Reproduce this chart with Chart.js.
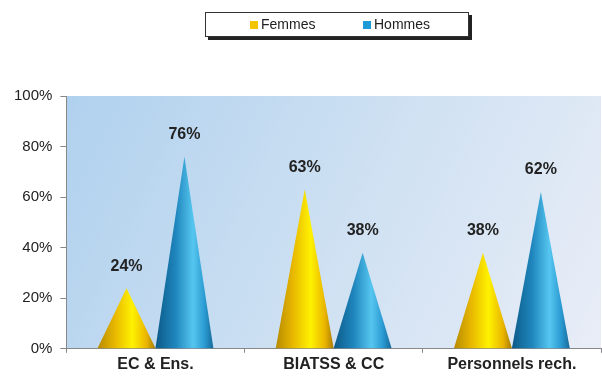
<!DOCTYPE html>
<html>
<head>
<meta charset="utf-8">
<script src="https://cdn.jsdelivr.net/npm/chart.js@4"></script>
<style>
    html, body { margin: 0; padding: 0; background: #fff; }
    #wrap { position: relative; width: 602px; height: 376px; }
    #legend {
        position: absolute; left: 205px; top: 12px; width: 262px; height: 23px;
        border: 1px solid #333; background: #fff; box-shadow: 3px 3px 0 #222;
        font: 14px "Liberation Sans", Arial, sans-serif; color: #222;
    }
    #legend span { position: absolute; top: 3px; }
    #legend i { display: inline-block; width: 8px; height: 8px; margin-right: 3px; vertical-align: 0; }
</style>
</head>
<body>
<div id="wrap">
    <canvas id="chart" width="602" height="376"></canvas>
    <div id="legend"></div>
</div>
<script>
(function () {
    'use strict';

    const categories = ['EC & Ens.', 'BIATSS & CC', 'Personnels rech.'];
    const seriesNames = ['Femmes', 'Hommes'];
    const femmes = [24, 63, 38];
    const hommes = [76, 38, 62];
    const yTicks = [0, 20, 40, 60, 80, 100];

    const FONT = '"Liberation Sans", Arial, sans-serif';
    const SWATCH = ['#f5c400', '#1e9ad6'];

    const CONE_STOPS = [
        [[0, '#b78a00'], [0.3, '#e8b800'], [0.6, '#fff200'], [0.85, '#e9b400'], [1, '#a67a00']],
        [[0, '#0c5a88'], [0.35, '#1f86bd'], [0.65, '#56c6f0'], [0.85, '#2a9ad2'], [1, '#16699a']]
    ];

    // legende en HTML
    const legend = document.getElementById('legend');
    legend.innerHTML = seriesNames.map((n, i) =>
        `<span style="left:${44 + i * 113}px"><i style="background:${SWATCH[i]}"></i>${n}</span>`
    ).join('');

    /** fond en degrade dans la zone du graphique */
    const backgroundPlugin = {
        id: 'plotBackground',
        beforeDraw(chart) {
            const { ctx, chartArea: a } = chart;
            const g = ctx.createLinearGradient(a.left, a.top, a.right, a.bottom);
            g.addColorStop(0, '#b0d1ee');
            g.addColorStop(0.5, '#cde0f2');
            g.addColorStop(1, '#e9edf7');
            ctx.save();
            ctx.fillStyle = g;
            ctx.fillRect(a.left, a.top, a.right - a.left, a.bottom - a.top);
            ctx.restore();
        }
    };

    /** cones a partir des barres calculees par Chart.js */
    const conePlugin = {
        id: 'cones',
        afterDatasetsDraw(chart) {
            const ctx = chart.ctx;
            ctx.save();
            chart.data.datasets.forEach((ds, di) => {
                const meta = chart.getDatasetMeta(di);
                meta.data.forEach((bar, i) => {
                    const { x, y, base, width } = bar.getProps(['x', 'y', 'base', 'width'], true);
                    const left = x - width / 2, right = x + width / 2;
                    const g = ctx.createLinearGradient(left, 0, right, 0);
                    CONE_STOPS[di].forEach(s => g.addColorStop(s[0], s[1]));
                    ctx.beginPath();
                    ctx.moveTo(left, base);
                    ctx.lineTo(x, y);
                    ctx.lineTo(right, base);
                    ctx.closePath();
                    ctx.fillStyle = g;
                    ctx.fill();

                    ctx.fillStyle = '#222';
                    ctx.font = 'bold 16px ' + FONT;
                    ctx.textAlign = 'center';
                    ctx.textBaseline = 'middle';
                    ctx.fillText(ds.data[i] + '%', x, y - 22);
                });
            });
            ctx.restore();
        }
    };

    new Chart(document.getElementById('chart'), {
        type: 'bar',
        data: {
            labels: categories,
            datasets: [
                { label: seriesNames[0], data: femmes, backgroundColor: 'rgba(0,0,0,0)' },
                { label: seriesNames[1], data: hommes, backgroundColor: 'rgba(0,0,0,0)' }
            ]
        },
        options: {
            responsive: false,
            animation: false,
            layout: { padding: { top: 96, right: 1, left: 6, bottom: 0 } },
            datasets: { bar: { categoryPercentage: 0.65, barPercentage: 1 } },
            plugins: { legend: { display: false }, tooltip: { enabled: false } },
            scales: {
                x: {
                    grid: { drawOnChartArea: false, offset: true, tickLength: 4, color: '#888' },
                    border: { color: '#888', width: 1 },
                    ticks: { color: '#222', font: { family: FONT, size: 16, weight: 'bold' }, padding: 2 }
                },
                y: {
                    min: 0,
                    max: 100,
                    afterBuildTicks(scale) { scale.ticks = yTicks.map(v => ({ value: v })); },
                    grid: { drawOnChartArea: false, tickLength: 6, color: '#888' },
                    border: { color: '#888', width: 1 },
                    ticks: {
                        color: '#222',
                        font: { family: FONT, size: 15 },
                        padding: 8,
                        callback: v => v + '%'
                    }
                }
            }
        },
        plugins: [backgroundPlugin, conePlugin]
    });
})();
</script>
</body>
</html>
